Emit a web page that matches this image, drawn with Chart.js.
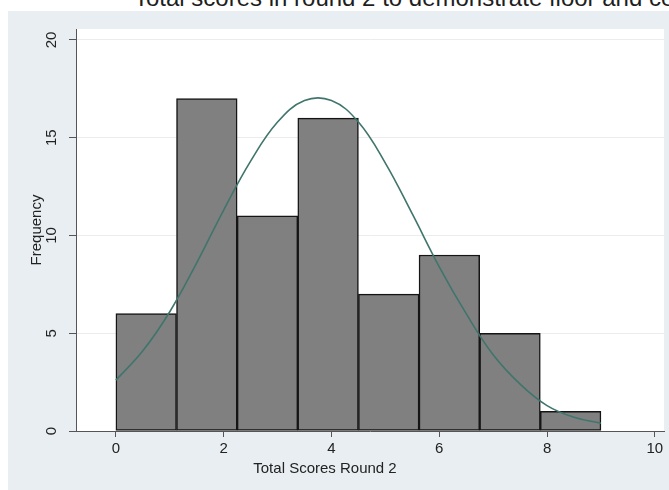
<!DOCTYPE html>
<html>
<head>
<meta charset="utf-8">
<script src="https://cdn.jsdelivr.net/npm/chart.js@4"></script>
<style>
  html, body { margin: 0; padding: 0; background: #fff; overflow: hidden; width: 669px; height: 490px; }
  #title { position: absolute; left: 134px; top: -15px; font: 24px/25px "Liberation Sans", Arial, sans-serif; color: #1e1e1e; white-space: nowrap; }
  #panel { position: absolute; left: 8px; top: 11px; width: 661px; height: 479px; background: #e8eef1; }
  #xtitle { position: absolute; left: 225px; top: 459px; width: 200px; text-align: center; font: 15px/18px "Liberation Sans", Arial, sans-serif; color: #222; }
</style>
</head>
<body>
<div id="title">Total scores in round 2 to demonstrate floor and ceiling effects</div>
<div id="panel"><canvas id="chart"></canvas></div>
<div id="xtitle">Total Scores Round 2</div>
<script>
// histogram bins (width 1.125, from 0 to 9)
const binCenters = [0.5625, 1.6875, 2.8125, 3.9375, 5.0625, 6.1875, 7.3125, 8.4375];
const frequencies = [6, 17, 11, 16, 7, 9, 5, 1];

// normal density overlay
const curveX = [0, 0.5, 1, 1.5, 2, 2.5, 3, 3.5, 4, 4.5, 5, 5.5, 6, 6.5, 7, 7.5, 8, 8.5, 9];
const curveY = [2.6, 4.1, 6.1, 8.6, 11.3, 13.8, 15.8, 16.9, 16.9, 15.8, 13.7, 11.1, 8.4, 6.0, 3.9, 2.4, 1.3, 0.7, 0.4];

const xTicks = [0, 2, 4, 6, 8, 10];
const yTicks = [0, 5, 10, 15, 20];

Chart.defaults.font.family = '"Liberation Sans", Arial, sans-serif';
Chart.defaults.font.size = 15;
Chart.defaults.color = '#222';

// white plot region
const plotBg = {
  id: 'plotBg',
  beforeDraw(chart) {
    const { ctx, chartArea: a } = chart;
    ctx.save();
    ctx.fillStyle = '#ffffff';
    ctx.fillRect(a.left, a.top, a.right - a.left, a.bottom - a.top);
    ctx.restore();
  }
};

new Chart(document.getElementById('chart'), {
  type: 'bar',
  data: {
    datasets: [
      {
        type: 'line',
        data: curveX.map((x, i) => ({ x, y: curveY[i] })),
        borderColor: '#3f756c',
        borderWidth: 1.6,
        pointRadius: 0,
        tension: 0.4,
        fill: false,
        order: 0
      },
      {
        type: 'bar',
        data: binCenters.map((x, i) => ({ x, y: frequencies[i] })),
        backgroundColor: '#808080',
        borderColor: '#151515',
        borderWidth: 1.5,
        borderSkipped: false,
        barPercentage: 1,
        categoryPercentage: 1,
        order: 1
      }
    ]
  },
  options: {
    responsive: true,
    maintainAspectRatio: false,
    animation: false,
    layout: { padding: { top: 14, right: 5, left: 0, bottom: 0 } },
    plugins: { legend: { display: false }, tooltip: { enabled: false } },
    scales: {
      x: {
        type: 'linear',
        min: -0.74,
        max: 10.17,
        offset: false,
        afterBuildTicks: s => { s.ticks = xTicks.map(v => ({ value: v })); },
        afterFit: s => { s.height = 59; },
        grid: { drawOnChartArea: false, drawTicks: true, tickLength: 6, tickColor: '#555', offset: false },
        border: { display: true, color: '#555', width: 1 },
        ticks: { padding: 3, maxRotation: 0, color: '#222' }
      },
      y: {
        min: 0,
        max: 20.56,
        afterBuildTicks: s => { s.ticks = yTicks.map(v => ({ value: v })); },
        afterFit: s => { s.width = 68; },
        grid: { color: '#ececec', drawTicks: true, tickLength: 7, tickColor: '#555' },
        border: { display: true, color: '#555', width: 1 },
        ticks: { minRotation: 90, maxRotation: 90, crossAlign: 'center', padding: 9, color: '#222' },
        title: { display: true, text: 'Frequency', padding: { top: 20, bottom: 0 }, color: '#222' }
      }
    }
  },
  plugins: [plotBg]
});
</script>
</body>
</html>
